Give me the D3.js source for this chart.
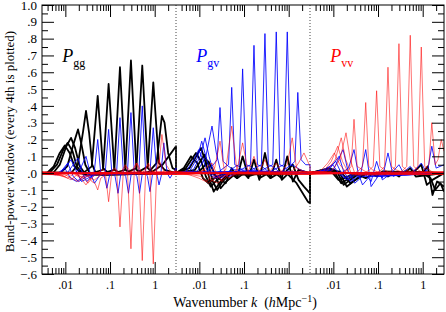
<!DOCTYPE html>
<html>
<head>
<meta charset="utf-8">
<script src="https://cdn.jsdelivr.net/npm/d3@7"></script>
<style>
  body { margin: 0; background: #fff; }
  svg { display: block; font-family: "Liberation Serif", "Times New Roman", serif; }
</style>
</head>
<body>
<svg width="446" height="312"></svg>
<script>
"use strict";

// three sub-panels share the same k range
const panelNames = ["gg", "gv", "vv"];
const kDomain = [0.003, 3];
const yDomain = [-0.6, 1.0];

const xMajorTicks = [0.01, 0.1, 1];
const xMajorLabels = [".01", ".1", "1"];
const xMinorTicks = [0.004, 0.005, 0.006, 0.007, 0.008, 0.009,
  0.02, 0.03, 0.04, 0.05, 0.06, 0.07, 0.08, 0.09,
  0.2, 0.3, 0.4, 0.5, 0.6, 0.7, 0.8, 0.9, 2];
const yMajorTicks = [1.0, 0.9, 0.8, 0.7, 0.6, 0.5, 0.4, 0.3, 0.2, 0.1, 0.0, -0.1, -0.2, -0.3, -0.4, -0.5, -0.6];
const yTickLabels = ["1.0", ".9", ".8", ".7", ".6", ".5", ".4", ".3", ".2", ".1", ".0", "−.1", "−.2", "−.3", "−.4", "−.5", "−.6"];
const yMinorTicks = [0.95, 0.85, 0.75, 0.65, 0.55, 0.45, 0.35, 0.25, 0.15, 0.05, -0.05, -0.15, -0.25, -0.35, -0.45, -0.55];

// Pgg band windows (black): [k, W] in each sub-panel
const blackGG = [
  [[0.003,0],[0.004,0.005],[0.0055,0.04],[0.0075,0.12],[0.0097,0.165],[0.0125,0.12],[0.016,0.04],[0.022,0],[0.03,-0.01],[0.06,0],[3,0]],
  [[0.003,0],[0.0045,0.005],[0.0065,0.05],[0.009,0.14],[0.0113,0.18],[0.0145,0.13],[0.018,0.04],[0.024,0],[0.035,-0.01],[0.07,0],[3,0]],
  [[0.003,0],[0.0055,0.005],[0.0075,0.05],[0.0105,0.16],[0.0134,0.21],[0.0165,0.15],[0.021,0.04],[0.027,0],[0.04,-0.01],[0.08,0],[3,0]],
  [[0.003,0],[0.008,0.005],[0.011,0.04],[0.0155,0.18],[0.0192,0.26],[0.023,0.17],[0.028,0.05],[0.035,0],[0.05,-0.01],[3,0]],
  [[0.003,0],[0.014,0.005],[0.019,0.05],[0.025,0.25],[0.029,0.37],[0.034,0.24],[0.04,0.05],[0.048,0],[0.07,-0.01],[3,0]],
  [[0.003,0],[0.025,0],[0.039,0.04],[0.053,0.46],[0.07,0.03],[0.093,0],[3,0]],
  [[0.003,0],[0.04,0],[0.07,0.02],[0.093,0.53],[0.125,0.02],[0.167,0],[3,0]],
  [[0.003,0],[0.07,0],[0.125,0.02],[0.167,0.63],[0.22,0.02],[0.3,0],[3,0]],
  [[0.003,0],[0.125,0],[0.22,0.02],[0.294,0.67],[0.39,0.02],[0.53,0],[3,0]],
  [[0.003,0],[0.22,0],[0.39,0.03],[0.527,0.64],[0.70,0.03],[0.93,0],[3,0]],
  [[0.003,0],[0.39,0],[0.70,0.04],[0.93,0.54],[1.24,0.06],[1.66,0.02],[3,0]],
  [[0.003,0],[0.70,0],[1.1,0.06],[1.45,0.34],[1.66,0.30],[2.0,0.12],[2.5,0.03],[3,0.02]],
  [[0.003,0],[0.5,0],[0.9,0.01],[1.5,0.05],[2.2,0.11],[3,0.16]]
];
const blackGV = [
  [[0.003,0],[0.0045,0.03],[0.0065,0.10],[0.009,0.06],[0.012,-0.03],[0.016,-0.06],[0.022,-0.03],[0.035,0],[3,0]],
  [[0.003,0],[0.005,0.03],[0.0084,0.12],[0.011,0.07],[0.014,-0.02],[0.018,-0.08],[0.025,-0.04],[0.04,0],[3,0]],
  [[0.003,0],[0.006,0.03],[0.0109,0.15],[0.014,0.06],[0.017,-0.04],[0.021,-0.11],[0.028,-0.06],[0.045,0],[3,0]],
  [[0.003,0],[0.008,0.02],[0.013,0.11],[0.016,0.05],[0.02,-0.05],[0.025,-0.10],[0.033,-0.05],[0.05,0],[3,0]],
  [[0.003,0],[0.01,0.01],[0.016,0.07],[0.02,0.02],[0.025,-0.04],[0.03,-0.09],[0.04,-0.05],[0.06,-0.01],[3,0]],
  [[0.003,0],[0.02,0],[0.03,-0.04],[0.039,-0.06],[0.053,0.03],[0.07,-0.03],[0.1,0],[3,0]],
  [[0.003,0],[0.05,0],[0.07,-0.03],[0.093,0.10],[0.125,-0.02],[0.2,0],[3,0]],
  [[0.003,0],[0.1,0],[0.125,-0.03],[0.167,0.08],[0.22,-0.03],[0.35,0],[3,0]],
  [[0.003,0],[0.2,0],[0.22,-0.04],[0.294,0.12],[0.39,-0.03],[0.6,0],[3,0]],
  [[0.003,0],[0.3,0],[0.39,-0.03],[0.527,0.08],[0.70,-0.04],[1.0,0],[3,0]],
  [[0.003,0],[0.5,0],[0.70,-0.03],[0.93,0.10],[1.24,-0.05],[1.66,0.02],[3,0]],
  [[0.003,0],[0.8,0],[1.24,0.05],[1.66,-0.04],[2.2,-0.08],[3,-0.12]],
  [[0.003,0],[0.9,0],[1.5,-0.06],[2.7,-0.17],[3,-0.18]]
];
const blackVV = [
  [[0.003,0],[0.006,0.02],[0.009,0.01],[0.013,-0.04],[0.018,-0.03],[0.03,0],[3,0]],
  [[0.003,0],[0.007,0.02],[0.011,0],[0.015,-0.06],[0.02,-0.04],[0.035,0],[3,0]],
  [[0.003,0],[0.008,0.03],[0.012,0.01],[0.017,-0.07],[0.024,-0.04],[0.04,0],[3,0]],
  [[0.003,0],[0.01,0.02],[0.014,0],[0.02,-0.08],[0.028,-0.05],[0.05,0],[3,0]],
  [[0.003,0],[0.014,0.01],[0.018,-0.02],[0.024,-0.06],[0.035,-0.03],[0.06,0],[3,0]],
  [[0.003,0],[0.03,0],[0.053,-0.03],[0.08,0],[3,0]],
  [[0.003,0],[0.07,0],[0.093,-0.02],[0.125,0.01],[3,0]],
  [[0.003,0],[0.125,0],[0.167,-0.02],[0.22,0],[3,0]],
  [[0.003,0],[0.22,0],[0.294,-0.02],[0.39,0.01],[3,0]],
  [[0.003,0],[0.39,0],[0.527,0.03],[0.7,-0.02],[3,0]],
  [[0.003,0],[0.6,0],[0.93,0.05],[1.24,-0.07],[1.66,-0.04],[3,0]],
  [[0.003,0],[1.0,0],[1.3,0.04],[1.66,-0.13],[2.1,-0.05],[3,-0.08]],
  [[0.003,0],[1.0,0],[1.5,-0.03],[1.9,-0.10],[2.5,-0.06],[3,-0.11]]
];

// Pgv band windows (blue)
const blueGG = [
  [[0.003,0],[0.006,-0.01],[0.0097,0.03],[0.013,-0.03],[0.018,-0.05],[0.025,-0.02],[0.04,0],[3,0]],
  [[0.003,0],[0.007,-0.01],[0.0113,0.06],[0.015,-0.02],[0.02,-0.05],[0.03,-0.02],[0.05,0],[3,0]],
  [[0.003,0],[0.008,0],[0.0134,0.08],[0.017,0.02],[0.023,-0.05],[0.032,-0.03],[0.05,0],[3,0]],
  [[0.003,0],[0.011,0],[0.0192,0.09],[0.024,0.0],[0.03,-0.05],[0.04,-0.02],[0.06,0],[3,0]],
  [[0.003,0],[0.016,0],[0.022,0.03],[0.029,0.10],[0.036,0],[0.045,-0.06],[0.06,-0.01],[3,0]],
  [[0.003,0],[0.03,0],[0.036,-0.03],[0.044,0.0],[0.053,0.20],[0.062,0.0],[0.075,-0.02],[0.085,-0.09],[0.1,0.0],[3,0]],
  [[0.003,0],[0.06,0],[0.078,0.0],[0.093,0.26],[0.11,0.0],[0.13,-0.02],[0.151,-0.12],[0.175,0.0],[3,0]],
  [[0.003,0],[0.12,0],[0.14,0.0],[0.167,0.33],[0.2,0.0],[0.225,-0.02],[0.259,-0.12],[0.3,0.0],[3,0]],
  [[0.003,0],[0.2,0],[0.245,0.0],[0.294,0.36],[0.35,0.0],[0.4,-0.02],[0.457,-0.12],[0.53,0.0],[3,0]],
  [[0.003,0],[0.35,0],[0.44,0.0],[0.527,0.40],[0.63,0.0],[0.69,-0.02],[0.785,-0.11],[0.9,0.0],[3,0]],
  [[0.003,0],[0.6,0],[0.78,0.0],[0.93,0.27],[1.11,0.0],[1.15,-0.02],[1.25,-0.07],[1.45,0.0],[3,0]],
  [[0.003,0],[1.0,0],[1.38,0.0],[1.6,0.18],[1.9,0.0],[2.2,-0.03],[3,0.03]]
];
const blueGV = [
  [[0.003,0],[0.005,0.01],[0.0075,0.08],[0.0097,0.14],[0.012,0.08],[0.016,0.0],[0.022,-0.03],[0.035,0],[3,0]],
  [[0.003,0],[0.006,0.01],[0.009,0.09],[0.0113,0.19],[0.014,0.10],[0.018,0],[0.025,-0.03],[0.04,0],[3,0]],
  [[0.003,0],[0.007,0.01],[0.0105,0.10],[0.0134,0.21],[0.0165,0.10],[0.021,0],[0.03,-0.03],[0.05,0],[3,0]],
  [[0.003,0],[0.009,0.01],[0.014,0.10],[0.0192,0.28],[0.024,0.12],[0.03,0.01],[0.045,-0.02],[0.07,0],[3,0]],
  [[0.003,0],[0.015,0.01],[0.022,0.06],[0.025,0.08],[0.029,0.39],[0.034,0.07],[0.045,0.04],[0.06,0.02],[3,0]],
  [[0.003,0],[0.025,0],[0.039,0.04],[0.045,0.05],[0.053,0.51],[0.062,0.05],[0.075,0.04],[0.1,0.01],[3,0]],
  [[0.003,0],[0.04,0],[0.065,0.04],[0.078,0.05],[0.093,0.62],[0.11,0.05],[0.14,0.04],[0.2,0.01],[3,0]],
  [[0.003,0],[0.07,0.01],[0.12,0.04],[0.14,0.05],[0.167,0.76],[0.2,0.05],[0.25,0.04],[0.35,0.01],[3,0]],
  [[0.003,0],[0.125,0.01],[0.21,0.04],[0.245,0.05],[0.294,0.83],[0.35,0.05],[0.43,0.04],[0.6,0.01],[3,0]],
  [[0.003,0],[0.22,0.01],[0.37,0.04],[0.44,0.05],[0.527,0.84],[0.63,0.05],[0.78,0.04],[1.0,0.01],[3,0]],
  [[0.003,0],[0.39,0.01],[0.65,0.04],[0.78,0.05],[0.93,0.84],[1.11,0.05],[1.4,0.04],[1.8,0.02],[3,0]],
  [[0.003,0],[0.7,0.01],[1.15,0.05],[1.38,0.07],[1.6,0.48],[1.9,0.08],[2.4,0.05],[3,0.05]]
];
const blueVV = [
  [[0.003,0],[0.006,0.02],[0.0097,0.05],[0.013,0],[0.018,-0.03],[0.03,0],[3,0]],
  [[0.003,0],[0.007,0.02],[0.0113,0.07],[0.015,0],[0.02,-0.04],[0.035,0],[3,0]],
  [[0.003,0],[0.008,0.02],[0.0134,0.10],[0.017,0.01],[0.024,-0.05],[0.04,-0.01],[3,0]],
  [[0.003,0],[0.01,0.02],[0.0165,0.14],[0.021,0.02],[0.03,-0.06],[0.045,-0.02],[3,0]],
  [[0.003,0],[0.015,0],[0.022,0.03],[0.029,0.14],[0.036,0],[0.045,-0.07],[0.065,-0.02],[3,0]],
  [[0.003,0],[0.03,0],[0.039,-0.03],[0.053,0.14],[0.07,-0.08],[0.1,-0.02],[3,0]],
  [[0.003,0],[0.05,0],[0.07,-0.05],[0.093,0.07],[0.125,-0.04],[0.2,0],[3,0]],
  [[0.003,0],[0.1,0],[0.125,-0.03],[0.167,0.12],[0.22,-0.02],[0.3,0],[3,0]],
  [[0.003,0],[0.2,0],[0.294,0.05],[0.39,-0.01],[3,0]],
  [[0.003,0],[0.35,0],[0.527,0.04],[0.7,0],[3,0]],
  [[0.003,0],[0.6,0],[0.93,0.06],[1.24,0],[3,0]],
  [[0.003,0],[1.0,0],[1.3,0.02],[1.6,0.16],[2.0,0.03],[3,0.05]]
];

// Pvv band windows (red)
const redGG = [
  [[0.003,0.006],[0.006,-0.01],[0.0097,-0.02],[0.014,0.01],[0.02,-0.01],[0.04,0.005],[3,-0.006]],
  [[0.003,-0.006],[0.007,-0.01],[0.0113,-0.03],[0.016,0.0],[0.022,-0.02],[0.05,-0.005],[3,0.007]],
  [[0.003,0.008],[0.008,-0.01],[0.0134,-0.04],[0.018,-0.01],[0.025,-0.03],[0.05,0.004],[3,-0.008]],
  [[0.003,-0.008],[0.01,-0.01],[0.0192,-0.05],[0.025,-0.02],[0.032,-0.06],[0.045,-0.01],[3,0.005]],
  [[0.003,0.004],[0.015,0],[0.022,-0.03],[0.029,-0.07],[0.036,-0.03],[0.045,-0.04],[0.07,0],[3,-0.004]],
  [[0.003,-0.004],[0.03,0],[0.039,-0.05],[0.046,-0.06],[0.053,-0.10],[0.062,-0.03],[0.08,-0.01],[0.12,0.006],[3,0.008]],
  [[0.003,0.006],[0.05,0],[0.07,0.02],[0.078,0.01],[0.093,-0.17],[0.11,0.01],[0.13,0.02],[0.17,-0.006],[3,-0.007]],
  [[0.003,-0.007],[0.1,0],[0.125,0.03],[0.14,0.02],[0.167,-0.32],[0.2,0.02],[0.23,0.04],[0.3,0.006],[3,0.006]],
  [[0.003,0.005],[0.17,0],[0.22,0.05],[0.245,0.02],[0.294,-0.45],[0.35,0.02],[0.4,0.06],[0.53,-0.005],[3,-0.005]],
  [[0.003,-0.005],[0.29,0],[0.39,0.06],[0.44,0.02],[0.527,-0.52],[0.63,0.02],[0.72,0.06],[0.93,0.004],[3,0.004]],
  [[0.003,0.007],[0.53,0],[0.70,0.05],[0.78,0.02],[0.93,-0.54],[1.11,0.02],[1.24,0.08],[1.66,0],[3,-0.006]],
  [[0.003,-0.003],[0.9,0],[1.24,0.04],[1.45,0.23],[1.8,0.05],[2.4,0.0],[3,0.02]]
];
const redGV = [
  [[0.003,0.006],[0.006,-0.01],[0.0097,-0.03],[0.014,-0.05],[0.02,-0.02],[0.04,0.004],[3,-0.006]],
  [[0.003,-0.006],[0.007,-0.01],[0.0113,-0.02],[0.016,-0.06],[0.022,-0.03],[0.05,-0.004],[3,0.007]],
  [[0.003,0.008],[0.008,0],[0.0134,0.02],[0.018,-0.04],[0.026,-0.06],[0.04,-0.01],[3,-0.008]],
  [[0.003,-0.008],[0.01,0],[0.0192,0.06],[0.024,0.0],[0.032,-0.05],[0.05,0.005],[3,0.005]],
  [[0.003,0.004],[0.015,0],[0.022,0.03],[0.029,0.19],[0.036,0.02],[0.045,-0.03],[0.07,0],[3,-0.004]],
  [[0.003,-0.004],[0.03,0],[0.039,0.02],[0.053,0.28],[0.07,0.01],[0.1,0.006],[3,0.008]],
  [[0.003,0.006],[0.05,0],[0.07,0.02],[0.093,0.18],[0.125,0.0],[0.17,-0.006],[3,-0.007]],
  [[0.003,-0.007],[0.1,0],[0.125,0.01],[0.167,0.10],[0.22,0.006],[3,0.006]],
  [[0.003,0.005],[0.2,0],[0.22,0.01],[0.294,0.08],[0.39,-0.005],[3,-0.005]],
  [[0.003,-0.005],[0.35,0],[0.527,0.06],[0.7,0.004],[3,0.004]],
  [[0.003,0.007],[0.6,0],[0.75,0.02],[0.93,0.05],[1.2,0.21],[1.5,0.03],[3,-0.006]],
  [[0.003,-0.003],[1.0,0],[1.3,0.02],[1.66,0.06],[2.2,0.12],[3,0.04]]
];
const redVV = [
  [[0.003,0.006],[0.005,0.01],[0.0075,0.06],[0.0105,0.12],[0.014,0.05],[0.02,0],[0.03,-0.01],[3,-0.006]],
  [[0.003,-0.006],[0.006,0.01],[0.009,0.07],[0.0125,0.16],[0.016,0.07],[0.022,0],[0.035,-0.01],[3,0.007]],
  [[0.003,0.008],[0.007,0.01],[0.011,0.08],[0.015,0.21],[0.019,0.08],[0.025,0],[0.04,-0.01],[3,-0.008]],
  [[0.003,-0.008],[0.009,0.01],[0.014,0.08],[0.0192,0.24],[0.024,0.08],[0.03,0],[0.05,0.005],[3,0.005]],
  [[0.003,0.004],[0.015,0],[0.022,0.02],[0.025,0.04],[0.029,0.32],[0.034,0.04],[0.045,0.02],[0.06,0],[3,-0.004]],
  [[0.003,-0.004],[0.03,0],[0.039,0.02],[0.045,0.04],[0.053,0.42],[0.062,0.04],[0.075,0.02],[0.1,0.006],[3,0.008]],
  [[0.003,0.006],[0.05,0],[0.065,0.02],[0.078,0.04],[0.093,0.49],[0.11,0.04],[0.14,0.02],[0.2,-0.006],[3,-0.007]],
  [[0.003,-0.007],[0.09,0],[0.12,0.02],[0.14,0.04],[0.167,0.63],[0.2,0.04],[0.25,0.02],[0.35,0.006],[3,0.006]],
  [[0.003,0.005],[0.17,0],[0.21,0.02],[0.245,0.04],[0.294,0.77],[0.35,0.04],[0.43,0.02],[0.6,-0.005],[3,-0.005]],
  [[0.003,-0.005],[0.29,0],[0.37,0.02],[0.44,0.04],[0.527,0.82],[0.63,0.04],[0.78,0.02],[1.0,0.004],[3,0.004]],
  [[0.003,0.007],[0.53,0],[0.65,0.02],[0.78,0.04],[0.93,0.75],[1.11,0.04],[1.4,0.02],[1.8,0],[3,-0.006]],
  [[0.003,-0.003],[0.93,0],[1.15,0.03],[1.38,0.05],[1.6,0.30],[1.9,0.05],[2.2,0.08],[2.6,0.2],[3,0.13]]
];

const svg = d3.select("svg");
const width = +svg.attr("width");
const height = +svg.attr("height");
const margin = { top: 5, right: 2, bottom: 38, left: 42 };
const innerWidth = width - margin.left - margin.right;
const innerHeight = height - margin.top - margin.bottom;
const panelWidth = innerWidth / panelNames.length;

const xScales = panelNames.map((p, i) =>
  d3.scaleLog().domain(kDomain).range([i * panelWidth, (i + 1) * panelWidth])
);
const yScale = d3.scaleLinear().domain(yDomain).range([innerHeight, 0]);

const g = svg.append("g").attr("transform", `translate(${margin.left},${margin.top})`);

g.append("clipPath").attr("id", "plot-clip")
  .append("rect").attr("width", innerWidth).attr("height", innerHeight);

const line = d3.line();
const windowPath = parts =>
  line(parts.flatMap((part, i) => part.map(([k, w]) => [xScales[i](k), yScale(w)])));

const curves = g.append("g").attr("clip-path", "url(#plot-clip)");

const drawSet = (gg, gv, vv, color, widthPx, opacity) => {
  curves.append("g")
    .selectAll("path")
    .data(gg.map((d, i) => [gg[i], gv[i], vv[i]]))
    .enter()
    .append("path")
    .attr("d", windowPath)
    .attr("fill", "none")
    .attr("stroke", color)
    .attr("stroke-width", widthPx)
    .attr("stroke-opacity", opacity)
    .attr("stroke-linejoin", "round");
};

drawSet(blackGG, blackGV, blackVV, "#000", 1.8, 1);
drawSet(blueGG, blueGV, blueVV, "#0000ff", 1, 0.85);
drawSet(redGG, redGV, redVV, "#ff0000", 0.8, 0.7);

// panel separators
g.selectAll(".sep")
  .data([1, 2])
  .enter()
  .append("line")
  .attr("class", "sep")
  .attr("x1", d => d * panelWidth)
  .attr("x2", d => d * panelWidth)
  .attr("y1", 0)
  .attr("y2", innerHeight)
  .attr("stroke", "#444")
  .attr("stroke-width", 1)
  .attr("stroke-dasharray", "1,2");

// axes
const styleAxis = sel => {
  sel.select(".domain").remove();
  sel.attr("font-size", null).attr("font-family", null);
  sel.selectAll(".tick line").attr("stroke", "#000");
  sel.selectAll("text").filter(function() { return !this.textContent; }).remove();
  sel.selectAll("text").attr("fill", "#000");
};

xScales.forEach(scale => {
  g.append("g").attr("transform", `translate(0,${innerHeight})`)
    .call(d3.axisBottom(scale).tickValues(xMajorTicks).tickSize(-12).tickPadding(6)
      .tickFormat((d, i) => xMajorLabels[i]))
    .call(styleAxis)
    .selectAll("text")
    .attr("text-anchor", "middle")
    .style("font-size", "12px");
  g.append("g").attr("transform", `translate(0,${innerHeight})`)
    .call(d3.axisBottom(scale).tickValues(xMinorTicks).tickSize(-6).tickFormat(""))
    .call(styleAxis);
  g.append("g")
    .call(d3.axisTop(scale).tickValues(xMajorTicks).tickSize(-12).tickFormat(""))
    .call(styleAxis);
  g.append("g")
    .call(d3.axisTop(scale).tickValues(xMinorTicks).tickSize(-6).tickFormat(""))
    .call(styleAxis);
});

g.append("g")
  .call(d3.axisLeft(yScale).tickValues(yMajorTicks).tickSize(-12).tickPadding(5)
    .tickFormat((d, i) => yTickLabels[i]))
  .call(styleAxis)
  .selectAll("text")
  .attr("text-anchor", "end")
  .style("font-size", "13px");
g.append("g")
  .call(d3.axisLeft(yScale).tickValues(yMinorTicks).tickSize(-6).tickFormat(""))
  .call(styleAxis);
g.append("g").attr("transform", `translate(${innerWidth},0)`)
  .call(d3.axisRight(yScale).tickValues(yMajorTicks).tickSize(-12).tickFormat(""))
  .call(styleAxis);
g.append("g").attr("transform", `translate(${innerWidth},0)`)
  .call(d3.axisRight(yScale).tickValues(yMinorTicks).tickSize(-6).tickFormat(""))
  .call(styleAxis);

g.append("rect")
  .attr("width", innerWidth)
  .attr("height", innerHeight)
  .attr("fill", "none")
  .attr("stroke", "#000")
  .attr("stroke-width", 1);

// axis titles
svg.append("text")
  .attr("transform", `translate(14,${margin.top + innerHeight / 2 + 2}) rotate(-90)`)
  .attr("text-anchor", "middle")
  .style("font-size", "13px")
  .text("Band-power window (every 4th is plotted)");

const xTitle = svg.append("text")
  .attr("x", margin.left + innerWidth / 2 + 2)
  .attr("y", 307)
  .attr("text-anchor", "middle")
  .style("font-size", "14px");
xTitle.append("tspan").text("Wavenumber ");
xTitle.append("tspan").style("font-style", "italic").text("k");
xTitle.append("tspan").text("\u00a0\u00a0(");
xTitle.append("tspan").style("font-style", "italic").text("h");
xTitle.append("tspan").text("Mpc");
xTitle.append("tspan").attr("dy", -5).style("font-size", "10px").text("−1");
xTitle.append("tspan").attr("dy", 5).text(")");

// panel labels
const panelLabels = [
  { sub: "gg", color: "#000" },
  { sub: "gv", color: "#0000ff" },
  { sub: "vv", color: "#ff0000" }
];
panelLabels.forEach((d, i) => {
  const t = g.append("text")
    .attr("x", xScales[i](0.0085))
    .attr("y", 57)
    .attr("fill", d.color);
  t.append("tspan").style("font-style", "italic").style("font-size", "18px").text("P");
  t.append("tspan").attr("dy", 5).style("font-size", "12px").text(d.sub);
});
</script>
</body>
</html>
